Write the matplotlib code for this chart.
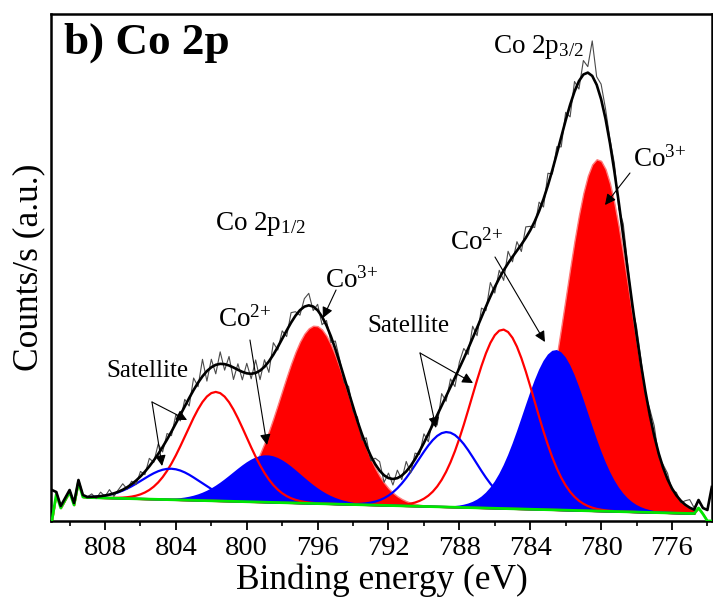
# co2p_fit.py
# XPS Co 2p: dados brutos, envelope do ajuste, componentes e fundo linear.

import numpy as np
import matplotlib
matplotlib.use("Agg")
import matplotlib.pyplot as plt

plt.rcParams["font.family"] = "Liberation Serif"
plt.rcParams["mathtext.fontset"] = "custom"
plt.rcParams["mathtext.rm"] = "Liberation Serif"
plt.rcParams["mathtext.it"] = "Liberation Serif:italic"

# grade de energia do espectro (eV), da maior para a menor
energy = np.round(np.arange(811.0, 773.70, -0.25), 2)

# componentes do ajuste: centro (eV), altura (counts/s), FWHM (eV)
peak_pos = [780.18, 782.55, 785.54, 788.70, 796.15, 798.86, 801.74, 804.28]
peak_height = [3520, 1600, 1790, 750, 1780, 470, 1090, 310]
peak_fwhm = [4.26, 4.30, 4.19, 3.86, 4.52, 4.52, 3.98, 3.86]
peak_color = ["red", "blue", "red", "blue", "red", "blue", "red", "blue"]
peak_filled = [True, True, False, False, True, True, False, False]

fit_lo, fit_hi = 774.75, 809.0
bg_lo, bg_hi = 74, 235          # fundo linear nas pontas da faixa de ajuste

# fora da faixa de ajuste: contagens e fundo como registrados
left_raw = [310, 290, 150, 230, 310, 180, 410, 260]    # 811.0 ... 809.25
left_bg = [0, 270, 130, 210, 290, 160, 390, 240]
right_raw = [210, 130, 110, 340]                       # 774.5 ... 773.75
right_bg = [130, 70, 0, 0]

# dado bruto menos ajuste, 809.0 ... 774.75
residual = [0, 30, -20, 40, -10, 50, -30, 20, 60, -20, 30, -40, 50,
            -30, 80, -20, 100, -50, 60, -40, 90,
            -60, 70, -80, 120, -40, 170, -100, 80,
            -90, 120, -60, 90, -120, 60, -80, 100,
            -50, 130, -90, 70, -110, 120, -30, 80,
            -60, 100, 40, -50, 80, 120, -40, 60,
            -80, 50, -60, 80, 30, -50, 60, -40,
            40, -60, 80, -50, 60, 90, -70, 50,
            -60, 80, -40, 100, -70, 60, -30, 90,
            -80, 70, -100, 120, -50, 80, -90, 60,
            100, -60, 120, -80, 90, -40, 140, -60,
            80, -100, 120, -50, 90, -70, 110, 40,
            -60, 90, -80, 120, -40, 70, -100, 80,
            -120, 100, -80, 140, 60, 350, 80, 150,
            100, 40, 80, -60, 120, 50, -40, 80,
            50, -30, 60, 100, -40, 30, 60, -20,
            30, -20, 40, 80, 20]


def main():
    fit = (energy <= fit_hi + 1e-6) & (energy >= fit_lo - 1e-6)
    left = energy > fit_hi + 1e-6
    right = energy < fit_lo - 1e-6
    ef = energy[fit]

    bg = np.zeros_like(energy, dtype=float)
    bg[left] = left_bg
    bg[right] = right_bg
    bg[fit] = bg_lo + (ef - fit_lo) * (bg_hi - bg_lo) / (fit_hi - fit_lo)

    comps = []
    for c, h, w in zip(peak_pos, peak_height, peak_fwhm):
        s = w / 2.3548
        y = np.zeros_like(energy, dtype=float)
        y[fit] = h * np.exp(-0.5 * ((ef - c) / s) ** 2)
        comps.append(y)

    envelope = bg + np.sum(comps, axis=0)
    raw = envelope.copy()
    raw[fit] += residual
    raw[left] = left_raw
    raw[right] = right_raw
    envelope[left] = left_raw
    envelope[right] = right_raw

    fig = plt.figure(figsize=(7.13, 6.01), dpi=100)
    ax = fig.add_axes([51 / 713, 80 / 601, 661 / 713, 507 / 601])

    # preenchidos: vermelho primeiro, azul por cima
    for i in [0, 4, 1, 5]:
        if peak_color[i] == "red":
            ax.fill_between(energy, bg, bg + comps[i], facecolor="#ff0000",
                            edgecolor="#ff7a7a", lw=1.0, zorder=2)
        else:
            ax.fill_between(energy, bg, bg + comps[i], facecolor="#0000ff",
                            edgecolor="none", lw=0, zorder=3)
    for i, f in enumerate(peak_filled):
        if not f:
            ax.plot(energy[fit], (bg + comps[i])[fit], color=peak_color[i], lw=1.6, zorder=4)

    ax.plot(energy, bg, color="#00e600", lw=2.0, zorder=5)
    ax.plot(energy, raw, color="#4a4a4a", lw=0.8, zorder=6)
    ax.plot(energy, envelope, color="black", lw=1.9, zorder=7)

    ax.set_xlim(811.05, 773.74)
    ax.set_ylim(0, 5070)
    ax.set_xticks(np.arange(808, 775, -4))
    ax.set_xticks(np.arange(810, 773, -2), minor=True)
    ax.set_yticks([])
    ax.tick_params(axis="x", which="major", direction="out", length=6.5, width=1.3,
                   labelsize=20.5, pad=4)
    ax.tick_params(axis="x", which="minor", direction="out", length=3.5, width=1.2)
    for sp in ax.spines.values():
        sp.set_linewidth(1.8)

    ax.set_xlabel("Binding energy (eV)", fontsize=25.5, labelpad=2)
    ax.set_ylabel("Counts/s (a.u.)", fontsize=25.5, labelpad=4)

    ax.text(0.019, 0.983, "b) Co 2p", transform=ax.transAxes, fontsize=32.5,
            fontweight="bold", ha="left", va="top")

    ax.text(786.10, 4680, r"Co 2p$_{\mathrm{3/2}}$", fontsize=19.5, va="baseline")
    ax.text(801.79, 2910, r"Co 2p$_{\mathrm{1/2}}$", fontsize=19.5, va="baseline")
    ax.text(778.20, 3540, r"Co$^{\mathrm{3{+}}}$", fontsize=19.5, va="baseline")
    ax.text(795.58, 2330, r"Co$^{\mathrm{3{+}}}$", fontsize=19.5, va="baseline")
    ax.text(801.62, 1940, r"Co$^{\mathrm{2{+}}}$", fontsize=19.5, va="baseline")
    ax.text(788.53, 2710, r"Co$^{\mathrm{2{+}}}$", fontsize=19.5, va="baseline")
    ax.text(793.21, 1890, "Satellite", fontsize=18, va="baseline")
    ax.text(807.94, 1440, "Satellite", fontsize=18, va="baseline")

    arrows = [
        ((778.37, 3480), (779.78, 3160)),
        ((794.96, 2310), (795.70, 2030)),
        ((799.82, 1810), (798.86, 760)),
        ((785.99, 2640), (783.17, 1790)),
        ((790.22, 1680), (789.32, 930)),
        ((790.22, 1680), (787.23, 1380)),
        ((805.35, 1190), (804.78, 550)),
        ((805.35, 1190), (803.37, 1010)),
    ]
    for tail, head in arrows:
        ax.annotate("", xy=head, xytext=tail,
                    arrowprops=dict(arrowstyle="-|>", color="black", lw=0.8,
                                    mutation_scale=16, shrinkA=0, shrinkB=0),
                    zorder=8)

    fig.savefig("out.png", dpi=100)
    plt.close(fig)


if __name__ == "__main__":
    main()
